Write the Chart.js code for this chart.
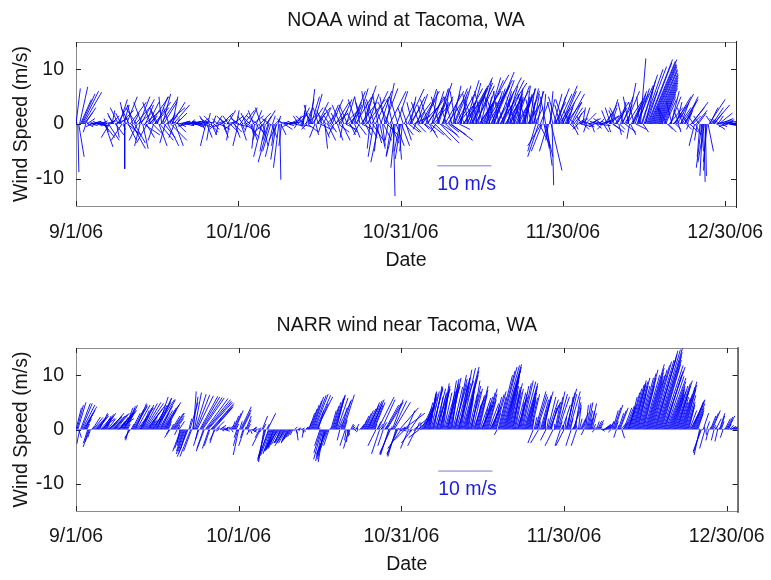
<!DOCTYPE html>
<html>
<head>
<meta charset="utf-8">
<title>Wind at Tacoma, WA</title>
<script src="https://cdn.jsdelivr.net/npm/chart.js@4.4.1/dist/chart.umd.min.js"></script>
<style>
  body { margin: 0; background: #fff; }
  .panel { width: 771px; height: 290px; }
</style>
</head>
<body>
<div class="panel"><canvas id="noaaChart" width="771" height="290"></canvas></div>
<div class="panel"><canvas id="narrChart" width="771" height="290"></canvas></div>
<script>
// x axis is days since 9/1/06 00:00. Each record holds 8-hourly sticks;
// the "A" lists start at 00h, the "B" lists at 04h, so together they are 4-hourly.
const samplesPerDay = 3;
const dateTicks = [0, 30, 60, 90, 120];
const dateLabels = ['9/1/06', '10/1/06', '10/31/06', '11/30/06', '12/30/06'];
const speedTicks = [-10, 0, 10];

// 10 m/s reference stick drawn inside each panel
const keyStart = 66.8;
const keyLevel = -7.65;
const keySpeed = 10;
const keyText = '10 m/s';

// [u, v] in m/s, NOAA station, 00h/08h/16h
const noaaWindA = [
  [0.8,6.5],[0.2,-8.8],[1.5,6.8], [2.5,5.5],[3.4,5.8],[2,3],
  [1.5,1],[-0.5,0.5],[2,0.5], [1,-0.3],[2,0.2],[-1,0.3],
  [1.5,0.4],[0.5,-0.4],[2,0.3], [1,-1],[1.5,-4.2],[-0.5,1],
  [2,-3],[1,0.8],[0.5,2.5], [-1,1.5],[1.5,-2],[2,3.5],
  [1.5,4.5],[-1,2],[0.5,-1], [0,-8.2],[2,5],[1.5,-3],
  [3,4],[2.5,-4.5],[1,2], [3,3.5],[-1.5,-3],[2,5],
  [2.5,4.5],[1,-4.5],[3,2.5], [1.5,-2.5],[2,4],[3.5,5],
  [1,1.5],[-1,-3],[2.5,3], [2,5],[1.5,-4],[3,4.5],
  [1.5,5.5],[2,-2.5],[3.5,3], [2,-4],[1,2],[2.5,4],
  [3,3.5],[1.5,-4],[0.5,1], [2,0.5],[1,-0.5],[2.5,0.4],
  [2,0.3],[1.5,-0.3],[2.5,0.5], [1,0.8],[2,-0.2],[1.5,0.4],
  [2.5,0.3],[1,-0.5],[2,0.6], [1.5,1],[0.5,-1],[2,0.4],
  [-1,-4],[0.5,2],[-0.5,-3], [1,-2],[0.5,1.5],[-1,-1],
  [1,1.5],[-0.5,-2],[1.5,0.8], [2,2],[0.5,-1.5],[-1,1],
  [1.5,2.5],[-0.5,-3],[1,0.5], [2,1.5],[1,-2.5],[0.5,2.5],
  [-1,-4],[1.5,2],[0.5,-1], [2,2.5],[1,0.5],[-0.5,-1.5],
  [1.5,3],[0.5,-2],[2,1.5], [-0.5,-4.5],[1,2.5],[-1,-3],
  [2,2],[-1.5,-6],[0.5,1], [-1,-5],[1.5,2.5],[-2,-7],
  [-1.5,-5],[0.5,1.5],[-0.5,-4], [-1,-6.5],[0.5,1.5],[0.2,-10.2],
  [-0.5,-4],[1,0.5],[1.5,0.3], [2,0.4],[1,-0.3],[2.5,0.5],
  [1.5,0.8],[2,-0.4],[1,1.5], [2,2],[1,-1],[1.5,3],
  [0.5,3.5],[2,1.5],[-1,-1], [1,4.5],[0.8,6.4],[2,3],
  [1.5,5.5],[0.5,-2],[2,4], [1,2],[-0.5,-1.5],[1.5,3],
  [0.5,-4.5],[2,2],[1,-1], [1.5,3.5],[2,4.5],[-1,-2],
  [2.5,4],[1,-3],[1.5,2.5], [2,4.5],[-0.5,-2.5],[3,3],
  [1.5,5],[2,2],[1,-2], [2.5,6],[1.5,3.5],[3,5],
  [2,6.5],[-1,-2],[3,4], [2.5,7],[1.5,5],[3.5,4.5],
  [2,5.5],[-0.5,-4.5],[3,6], [-1,-6],[2.5,5],[-0.5,-5],
  [-1.5,-7],[2,6],[0.5,-4], [2.5,6.5],[1.5,7.5],[-0.5,-3],
  [3,6],[-1,-5.8],[0.3,-13.2], [-0.8,-8],[2,6],[0.5,-6.5],
  [-1,-6.4],[-0.5,-5],[2,4], [1,-3],[3,6.4],[2,3],
  [2.5,5],[1.5,-1.5],[3,4], [2,5.5],[1,2],[3.5,6],
  [2.5,4.5],[1,-1],[2,6.4], [3,5],[1.5,-2.5],[2.5,3.5],
  [2,6],[3,-3],[1.5,4], [2.5,7.5],[3.5,-3.5],[2,5],
  [1,6.5],[2.5,-2.5],[3,4.5], [2,5.5],[4,-3],[1.5,7],
  [2.5,6],[1.5,3],[3,5.5], [2,7],[-0.5,1.5],[3.5,6.5],
  [2.5,8],[1.5,4],[3,6], [4,8.5],[2,5],[1,3],
  [3,7.5],[1.5,6.5],[2.5,4], [5,9],[2,6],[3,5],
  [2.5,8.5],[1,4],[3.5,7], [4,9.5],[2,6.5],[1.5,3],
  [3,8],[5,7.5],[2,5], [1.5,6],[3,4.5],[2,7],
  [2.5,5.5],[1,3],[2,6.5], [1.5,4],[2.5,7],[1,5],
  [0.5,6],[2,5.5],[1.5,4.5], [1,7],[0.5,5],[2,6],
  [1.5,6.5],[0.5,4],[1,5.5], [-1.5,-5],[1,6],[2,-4],
  [-2.5,-4],[0.5,5.5],[1.5,-6], [1,-7.6],[-0.5,-3],[0.5,6],
  [0.3,-11.2],[1.5,5.5],[2.5,6.5], [1.5,5],[2,3],[3,7],
  [2.5,6],[1,2],[1.5,4], [3,5.5],[1,-1],[2,3],
  [2,2.5],[0.5,-1],[1.5,1], [1,0.5],[2,-0.5],[0.5,3],
  [1,3],[-0.5,-1.5],[1.5,0.5], [2,1],[0.5,-1.5],[1,0.4],
  [1.5,0.5],[2.5,-0.3],[1,1], [2,0.5],[-1,-1],[1.5,2],
  [2,3.5],[0.5,-1.5],[1.5,4.5], [1,3],[2,-1.5],[2.5,4],
  [1.5,2.5],[0.5,-2],[1,4], [2,5],[1,1.5],[2.5,6],
  [1.5,7.5],[-0.5,-2.7],[2,4], [2.5,6],[1,3],[3,7],
  [2,6.5],[1,12],[2.5,8], [3.5,10],[1.5,7],[4.6,11.8],
  [4.8,11.5],[4.6,11],[4.4,10.5], [4.2,9.8],[4,9],[3.6,8],
  [3.2,7],[2.5,5.5],[1.5,4], [2,4.5],[1,-1],[2.5,3],
  [1.5,6],[2,2],[3,5], [1,4],[0.5,-1.5],[2,3],
  [3,4.5],[1.5,2],[2,4], [1,2.5],[-0.5,-1],[2.5,3],
  [1.5,1.5],[-1,-4],[2,2.5], [1.5,2],[-0.5,-6],[-1,-8],
  [0.3,-10.6],[0.2,-9.5],[-0.7,-7], [3,4.5],[1,1],[2,3],
  [1.5,2],[2,0.5],[1,1.5], [2.5,1],[1,-0.5],[1.5,0.8],
  [2,0.5],[1,0.3],[1.5,-0.3], [1,0.2],[0.5,0.1],[0.3,0.1]
];

// [u, v] in m/s, NOAA station, 04h/12h/20h
const noaaWindB = [
  [-0.5,3],[1,-6],[2,4.5], [3,6],[1.5,2],[-0.5,-1.5],
  [1,-0.5],[2.5,0.3],[-1,-0.5], [1.5,0.5],[-0.5,-0.3],[2,-0.4],
  [-1,0.5],[1.5,-0.3],[1,0.6], [2,-2.5],[0.5,-1.5],[1.5,0.5],
  [-1.5,-2.5],[1.5,1.5],[-1,2], [2.5,1],[0.5,-2.5],[-1.5,3],
  [2.5,2.5],[-2,-3],[1,3.5], [-1,4],[2.5,-2],[-1.5,3],
  [1.5,-2],[-1,3.5],[2,-3.5], [-2,3],[2.5,2],[-1,-4],
  [-1.5,4],[3,-2],[1.5,3.5], [-2,-3.5],[1,1],[-1.5,4],
  [2,-2],[3,4],[-1,2.5], [-1.5,3],[2.5,-3],[-0.5,5],
  [2.5,4],[-1,-3.5],[2,1.5], [-1,3],[3,-3],[1,5],
  [-1,-2.5],[2,2],[1.5,-1.5], [-1.5,0.4],[1.5,0.5],[-1,-0.4],
  [1,0.5],[-1.5,-0.4],[1.5,0.3], [-1,0.3],[2,0.5],[-0.5,-0.3],
  [1.5,-0.6],[-1,0.5],[1,-0.3], [-1.5,0.5],[1.5,-0.5],[-1,1.5],
  [1,-2.5],[-1.5,1],[1.5,-1.5], [-1.5,1.5],[1,-1],[1.5,0.5],
  [-1,1],[2,-1],[-1.5,-0.5], [1,-2.5],[-1.5,1.5],[2,0.5],
  [-1,1.5],[1.5,-1.5],[-1.5,-1], [1.5,-1.5],[-1,1.5],[2,-0.5],
  [-1.5,1],[1,-3],[-1,1.5], [1.5,-1],[-1,2],[2,-2.5],
  [-1.5,1.5],[1,-3],[-1,2.5], [1.5,-1.5],[-2,1.5],[1,-2],
  [-1,3],[1,-4],[-2,-1.5], [1,1.5],[-1,-3],[-1.5,1],
  [1,-2.5],[-1.5,-6],[1,1], [-1.5,-3],[-1,-8],[1,-2],
  [-1,1],[1.5,-1],[-1.5,0.5], [-1,-0.5],[1.5,0.8],[-1.5,0.3],
  [-1,0.5],[1.5,1.5],[-0.5,-0.8], [-1,1.5],[2,-0.5],[0.5,2.5],
  [-1.5,1.5],[1,2.5],[2,-1.5], [-1,3.5],[1.5,5],[-1.5,2],
  [-1,-2.5],[2.5,3],[-1,3], [2,-1],[-1,2.5],[1,-2.5],
  [-1.5,2],[1.5,-3],[-1,1.5], [1,-1.5],[-1.5,3],[2.5,2],
  [-1,2],[2,-1.5],[-1.5,3.5], [1.5,-3],[-1,3],[2,-1],
  [-1.5,3.5],[1.5,-1.5],[2,4], [-1,2],[1,-2.5],[-1.5,4.5],
  [1.5,-2],[-1,5],[2,-1], [-1.5,4],[1,-2],[-1,6],
  [1.5,-2.5],[-1,4],[2,-3], [-1.5,4.5],[1,-3.5],[-1,5.5],
  [1,-4.5],[-1.5,4],[1.5,-3], [-1,5],[2,-2],[-2,4],
  [1.5,-3.5],[-1,4.5],[-1.5,-6], [1.5,-4],[-1.5,5],[-1,-5],
  [1.5,-4],[-1,3],[1.5,-2], [-1,3],[2,-1.5],[1,5],
  [-1,4],[3,1.5],[-0.5,-1], [1.5,-1.5],[-1.5,4],[3,3],
  [-1,3.5],[2,-1.5],[3.5,5], [-1.5,4.5],[2.5,-2],[1,6],
  [3.5,4.5],[-1,-1.5],[2,6.5], [-1.5,5],[3,-2],[1,4],
  [3.5,6],[-1,3],[2,-1.5], [3,-2],[-1.5,5],[2.5,6.5],
  [-1,6],[3.5,4],[2,-1], [1,5],[4,5],[-1.5,3],
  [4,7],[-1,5.5],[2,7.5], [3,6.5],[-1.5,4],[3.5,7],
  [-1,5],[4,6],[2,8], [-1.5,6],[3.5,8],[1,5],
  [4.5,8],[-1,5.5],[2,6], [3,7],[-1.5,4.5],[4.5,8.5],
  [-1,6],[2.5,6],[4,8], [-1.5,4],[2.5,5.5],[1,4],
  [3.5,6],[-1,4],[1.5,5], [-1.5,5],[2,3.5],[3,6],
  [-1,4],[2.5,6.5],[1,3.5], [-1.5,5.5],[2.5,4],[1,6.5],
  [-1,4.5],[2,6],[1.5,3], [-1,5],[-2,-6],[1.5,4],
  [-2,-5],[1,-4.5],[-1,5], [-1.5,-5],[1,4.5],[2,-8.5],
  [-1,4],[2,4],[-1.5,5], [2.5,5.5],[-1,3.5],[3.5,6],
  [-1.5,4.5],[3,4],[1,3], [-1,2.5],[2,4],[1,-2],
  [-1.5,1.5],[1,2],[-1,-1], [1.5,1],[-1,1.5],[1,-1],
  [2,2],[-1,0.5],[1,-0.5], [-1.5,0.5],[1,1],[-1,-0.5],
  [1,-0.8],[-1.5,0.5],[2,0.6], [-1.5,1],[1,-1.5],[2.5,1.5],
  [-1,2.5],[2,1.5],[-1,3], [1.5,-1],[-1,2.5],[2,3],
  [-1.5,3],[1,-1],[2,3.5], [-1,4],[2,-1.5],[3,4.5],
  [-1,5],[1,-2],[3,5.5], [-1,4],[2,-1],[1.5,5.5],
  [-0.5,5],[3,9],[1,-1.5], [4,10.5],[2,6],[4.3,11.2],
  [4.9,11.8],[4.5,10.8],[4.3,10], [4.1,9.3],[3.8,8.5],[3.4,7.5],
  [3,6.5],[-1,3],[2,5], [-1.5,3],[1.5,-1.5],[2,5],
  [-1,4],[2.5,3.5],[1,-1], [3,5.5],[-1,2.5],[1.5,4],
  [-1,3],[2.5,5],[1,-1], [-1.5,2],[1.5,-1.5],[3,4],
  [-1,1.5],[1,-2],[-0.5,-3], [-1,1.5],[0.5,-5],[-0.5,-9.5],
  [-1.2,-7],[-0.5,-8.5],[1,-5], [1.5,3],[-1,1.5],[3,3.5],
  [-1,1],[1.5,-1],[2.5,2], [-1.5,0.8],[2,0.5],[-1,-0.5],
  [1.5,0.8],[-1,-0.3],[2,0.3], [-0.5,0.2],[1,-0.2],[0.5,0.1]
];

// [u, v] in m/s, NARR grid point near Tacoma, 00h/08h/16h
const narrWindA = [
  [1,4],[1.5,5],[-0.5,-2.6], [2,4.8],[2.5,4.2],[1.5,3],
  [0.5,1],[-1,-3.2],[-0.5,-1.5], [1.5,2.3],[2,2],[1,1],
  [2,2.5],[1.5,3],[2.5,2], [1.5,2.5],[2,3],[0.5,1],
  [2,2],[2.5,3],[1.5,1.5], [2,2.5],[2.5,3],[3,2],
  [1,1.5],[2,3],[2.5,3.5], [1.5,4],[2,4.5],[-0.5,-2],
  [-1,-1.5],[1.5,3],[2.5,4.3], [2,4.8],[3,4],[1,1],
  [1.5,3.5],[2,4.5],[3,5], [3.5,4.5],[2,3],[1,1.5],
  [1.5,2],[2.5,4.5],[3.5,5.5], [2,6],[3,5.5],[1.5,3],
  [2.5,4],[3,5],[1,2], [0.5,1],[-1,-1.5],[1.5,2.5],
  [2,3],[1.5,2],[-0.5,-1], [1,1.5],[-1.5,-4],[-1,-3],
  [-1.5,-4.5],[-1,-3.5],[-2,-5], [1.5,5],[-1.5,-4],[0.5,7],
  [2,6.5],[3,6.2],[-1,-3], [3.5,6],[4,5.8],[-1.5,-4],
  [4.5,5.5],[4.5,5],[-1,-3], [4,4.5],[3.5,4],[-1,-2],
  [0.5,0.5],[-0.5,-0.3],[1,0.8], [0.5,0.3],[1,-0.3],[0.5,0.5],
  [-0.5,0.3],[0.8,0.8],[0.3,-0.5], [1,2.5],[1.5,3.5],[-0.5,-1.5],
  [-1,-4.7],[2,4.2],[1.5,3], [-1,-3],[1,2.5],[0.5,1],
  [-0.5,-1],[1,-0.5],[0.5,0.3], [0.3,0.5],[-0.5,-0.5],[0.5,0.3],
  [-1.5,-3],[1,2.5],[-1,-6], [-1.5,-5.5],[1.5,3],[-2,-5],
  [-1.5,-4.5],[-1,-3.5],[-2,-4], [-1.5,-3.5],[-2,-3],[-1,-2.5],
  [-1.5,-2.5],[-1,-2],[-2,-3], [-1,-2],[-1.5,-2.5],[-1,-1.5],
  [-0.5,-1],[0.5,0.5],[0.3,-2], [0.5,0.3],[-0.3,-0.3],[0.5,0.3],
  [-0.3,-1.5],[0.5,0.5],[0.3,0.2], [1,3],[1.5,4.5],[2,6],
  [2.5,6.5],[3,6],[1,3.5], [-1,-3],[-1.5,-5.5],[-1,-6],
  [-1.5,-5],[-2,-4.5],[-1,-3], [1,3.5],[1.5,5],[2,6.4],
  [1.5,6],[2.5,5.5],[-0.5,-2], [1,4],[2,6.4],[-1,-3],
  [0.5,-1],[-1,-3.5],[0.5,1], [0.5,0.5],[0.3,-0.3],[0.5,1],
  [-0.3,-0.5],[0.3,0.3],[0.5,1], [1,2.5],[1.5,3.5],[2,4],
  [2,5],[2.5,5.5],[1.5,4], [2,5],[-1.5,-3],[3,6],
  [-1.5,-4.5],[2.5,5.5],[-1,-3], [2.5,4.5],[3,5],[-1.5,-4.7],
  [-2,-4.4],[2,5.5],[3,5], [-1.5,-5],[-2,-4.5],[3.5,4],
  [-2.5,-3.5],[4,3],[-2,-2], [1.5,3.5],[-1.5,-3.5],[2,3],
  [-2,-2.5],[2.5,2],[-1.5,-3], [3,2.5],[-2,-1.5],[2,4],
  [2.5,4.5],[1.5,5],[2,6], [1.5,7],[1,6.5],[2,7.5],
  [1.5,8],[2.5,7],[1,6], [2,7.5],[1.5,8.5],[1,6.5],
  [2,7],[2.5,8],[1.5,9], [2,9.5],[1,7],[2.5,8.5],
  [2,10],[3,9],[1.5,8], [2,11],[3,11.5],[2.5,10],
  [1.5,8],[1,6],[2,7], [1.5,9],[2,6],[1,4.5],
  [2,8],[1.5,6.5],[2.5,5], [1,4],[1.5,6],[2,7.5],
  [1.5,5.5],[2,4],[1,3], [1.5,6],[2,7],[-0.5,-1],
  [2.5,10],[3,11.5],[3.5,12], [3,11],[2.5,10.5],[2,9],
  [1.5,7],[2,8.5],[1,6], [1.5,7.5],[2,6],[1,5],
  [1.5,8],[2,9],[2.5,8.5], [2,7.5],[1.5,6],[1,5],
  [1.5,6.5],[-1,-2.5],[2,7], [2,6],[-1.5,-2.5],[1.5,5.5],
  [2,7],[1,5],[-1,-2], [1.5,6],[2,5],[1,4],
  [-1.5,-3],[1,5],[1.5,7], [2,6],[-1,-3],[1.5,4.5],
  [-1.5,-3],[2,7.5],[1,6], [2,7],[-1,-3],[1.5,4],
  [1,6],[-1,-3],[0.5,4.5], [1.5,3],[0.5,1],[-0.5,-1],
  [0.5,4.5],[1,5],[0.5,2], [1,4.8],[0.5,1],[-0.5,-0.5],
  [0.5,1.5],[1,1.7],[0.3,0.5], [0.5,-0.3],[0.8,0.5],[1,1],
  [0.5,0.5],[1,1.5],[-0.5,-0.5], [1,3.5],[1.5,4.5],[-0.5,-1.5],
  [1,3],[1.5,4],[0.5,-1.6], [1.5,4],[2,4.5],[1,2],
  [1.5,6],[2,7.5],[2.5,9], [2,8],[2.5,9.5],[1.5,6.5],
  [2.5,9.5],[3,11],[2,8], [3.5,12],[3,10.5],[2.5,9],
  [3,11],[3.5,12.5],[4,13], [4,14.5],[4.5,14.9],[4,13.5],
  [3.5,12],[4,11.5],[3,10], [3.5,9.5],[3,8],[2.5,7],
  [2,6],[2.5,8],[3,9], [2,7],[1.5,5],[2,6.5],
  [2.5,8.8],[2,7.5],[1.5,5], [1,4],[1.5,3],[2,5],
  [2,5.5],[1.5,4],[1,3], [-1,-4.7],[-1.5,-4],[1,3],
  [-1,-3.5],[0.5,1.5],[-0.5,-2], [1,2.5],[1.5,3.5],[-0.5,-2],
  [1,2],[-0.5,-2.2],[1,3], [0.5,1.5],[-0.5,-1.5],[1,2],
  [1.5,2.5],[0.5,1],[1,0.5], [0.5,0.5],[1,0.5],[0.3,0.2]
];

// [u, v] in m/s, NARR grid point near Tacoma, 04h/12h/20h
const narrWindB = [
  [1.2,4.5],[0.5,-1.5],[1.8,4.8], [2.3,4.5],[2,3.5],[1,2],
  [-0.8,-2.5],[-0.8,-2.3],[0.5,0.5], [1.8,2.2],[1.5,1.5],[1.5,2],
  [1.8,2.8],[2,2.2],[2,2.3], [1.8,2.8],[1,2],[1.5,2],
  [2.3,2.5],[2,2.3],[1.8,2], [2.3,2.8],[2.8,2.5],[1.5,1.5],
  [1.5,2.3],[2.3,3.3],[2,3.8], [1.8,4.3],[0.5,1],[-0.8,-1.8],
  [0.5,1],[2,3.7],[2.3,4.6], [2.5,4.5],[2,2.5],[1.3,2.5],
  [1.8,4],[2.5,4.8],[3.3,4.8], [2.8,3.8],[1.5,2.3],[1.2,1.8],
  [2,3.3],[3,5],[2.8,5.8], [2.5,5.8],[2.3,4.3],[2,3.5],
  [2.8,4.5],[2,3.5],[0.8,1.5], [-0.5,-0.8],[0.5,1],[2,3],
  [1.8,2.5],[0.5,0.5],[0.3,0.8], [-0.5,-2.5],[-1.3,-3.5],[-1.3,-4],
  [-1.3,-4],[-1.5,-4.3],[0.5,2], [-2,-5],[1,6],[1.3,6.8],
  [2.5,6.4],[-0.5,-2],[3.3,6.1], [3.8,5.9],[-1.2,-3.5],[4.2,5.7],
  [4.5,5.2],[-1.2,-3.5],[4.3,4.8], [3.8,4.2],[-0.8,-2.5],[1.5,1.5],
  [0.3,0.2],[0.8,0.5],[0.5,-0.3], [0.8,0.1],[0.8,0.4],[0.1,0.4],
  [0.3,0.5],[0.5,0.3],[0.5,1.5], [1.3,3],[0.5,1],[-0.8,-3],
  [0.5,1.5],[1.8,3.6],[-0.5,-1.5], [0.2,0.5],[0.8,1.8],[0.1,-0.5],
  [0.3,-0.8],[0.8,-0.2],[0.4,0.4], [0.2,0.1],[0.1,0.2],[-0.8,-1.5],
  [-0.3,-0.5],[0.5,1],[-1.3,-5.8], [0.5,1],[-1.8,-5.3],[-1.8,-4.8],
  [-1.3,-4],[-1.5,-3.8],[-1.8,-3.8], [-1.8,-3.3],[-1.5,-2.8],[-1.3,-2.5],
  [-1.3,-2.3],[-1.5,-2.5],[-1.5,-2.5], [-1.3,-2.3],[-1.3,-2],[-0.8,-1.3],
  [0.1,-0.3],[0.4,-0.8],[0.4,0.1], [0.1,0.1],[0.2,0.1],[0.1,-0.6],
  [0.1,-0.5],[0.4,0.4],[0.7,1.5], [1.3,3.8],[1.8,5.3],[2.3,6.3],
  [2.8,6.3],[2,4.8],[0.2,0.3], [-1.3,-4.3],[-1.3,-5.8],[-1.3,-5.5],
  [-1.8,-4.8],[-1.5,-3.8],[0.1,0.3], [1.3,4.3],[1.8,5.7],[1.8,6.2],
  [2,5.8],[1,1.8],[0.3,1], [1.5,5.2],[0.5,1.7],[-0.3,-2],
  [-0.3,-2.3],[-0.3,-1.3],[0.5,0.8], [0.4,0.1],[0.4,0.4],[0.1,0.3],
  [0.1,-0.1],[0.4,0.7],[0.8,1.8], [1.3,3],[1.8,3.8],[2,4.5],
  [2.3,5.3],[2,4.8],[1.8,4.5], [0.3,1],[0.8,1.5],[0.8,1],
  [0.5,0.5],[0.8,1.3],[0.8,0.8], [2.8,4.8],[0.8,0.2],[-1.8,-4.6],
  [0.1,0.6],[2.5,5.3],[0.8,0.2], [-1.8,-4.8],[0.8,-0.3],[0.8,0.3],
  [0.8,-0.3],[1,0.5],[-0.3,0.5], [0.2,0.1],[0.3,-0.3],[-0.5,-0.5],
  [0.3,-0.3],[0.5,0.3],[0.5,1.3], [0.5,0.5],[0.1,1.3],[2.3,4.3],
  [2,4.8],[1.8,5.5],[1.8,6.5], [1.3,6.8],[1.5,7],[1.8,7.8],
  [2,7.5],[1.8,6.5],[1.5,6.8], [1.8,8],[1.3,7.5],[1.5,6.8],
  [2.3,7.5],[2,8.5],[1.8,9.3], [1.5,8.3],[1.8,7.8],[2.3,9.3],
  [2.5,9.5],[2.3,8.5],[1.8,9.5], [2.5,11.3],[2.8,10.8],[2,9],
  [1.3,7],[1.5,6.5],[1.8,8], [1.8,7.5],[1.5,5.3],[1.5,6.3],
  [1.8,7.3],[2,5.8],[1.8,4.5], [1.3,5],[1.8,6.8],[1.8,6.5],
  [1.8,4.8],[1.5,3.5],[1.3,4.5], [1.8,6.5],[0.8,3],[1.5,6],
  [2.8,10.8],[3.3,11.8],[3.3,11.5], [2.8,10.8],[2.3,9.8],[1.8,8],
  [1.8,7.8],[1.5,7.3],[1.3,6.8], [1.8,6.8],[1.5,5.5],[1.3,6.5],
  [1.8,8.5],[2.3,8.8],[2.3,8], [1.8,6.8],[1.3,5.5],[1.3,5.8],
  [0.3,2],[0.5,2.3],[2,6.5], [0.3,1.8],[0.1,1.5],[1.8,6.3],
  [1.5,6],[0.1,1.5],[0.3,2], [1.8,5.5],[1.5,4.5],[-0.3,0.5],
  [0.1,1],[1.3,6],[1.8,6.5], [0.5,1.5],[0.3,0.8],[0.1,0.8],
  [0.3,2.3],[1.5,6.8],[1.5,6.5], [0.5,2],[0.3,0.5],[1.3,5],
  [0.1,1.5],[-0.3,0.8],[0.5,2], [1,2],[0.2,0.1],[0.1,1.8],
  [0.8,4.8],[0.8,3.5],[0.8,3.4], [0.8,3],[0.1,0.3],[0.1,0.5],
  [0.8,1.6],[0.7,1.1],[0.4,0.1], [0.7,0.1],[0.9,0.8],[0.8,0.8],
  [0.8,1],[0.3,0.5],[0.3,1.5], [1.3,4],[0.5,1.5],[0.3,0.8],
  [1.3,3.5],[1,1.2],[1,1.2], [1.8,4.3],[1.5,3.3],[1.3,4],
  [1.8,6.8],[2.3,8.3],[2.3,8.5], [2.3,8.8],[2,8],[2,8],
  [2.8,10.3],[2.5,9.5],[2.8,10], [3.3,11.3],[2.8,9.8],[2.8,10],
  [3.3,11.8],[3.8,12.8],[4,13.8], [4.3,14.7],[4.3,14.2],[3.8,12.8],
  [3.8,11.8],[3.5,10.8],[3.3,9.8], [3.3,8.8],[2.8,7.5],[2.3,6.5],
  [2.3,7],[2.8,8.5],[2.5,8], [1.8,6],[1.8,5.8],[2.3,7.8],
  [2.3,8.2],[1.8,6.3],[1.3,4.5], [1.3,3.5],[1.8,4],[2,5.3],
  [1.8,4.8],[1.3,3.5],[0.2,0.1], [-1.3,-4.3],[0.1,0.1],[0.1,0.5],
  [0.1,-1],[0.1,0.1],[0.3,0.5], [1.3,3],[0.5,0.8],[0.3,0.5],
  [0.3,0.1],[0.3,0.4],[0.8,2.5], [0.1,0.1],[0.3,0.3],[1.3,2.3],
  [1,1.8],[0.8,0.8],[0.8,0.5], [0.8,0.5],[0.7,0.4],[0.2,0.1]
];

const FONT = "'Liberation Sans', Arial, sans-serif";
const TEXT = '#151515';

// each stick runs from (t, 0) to (t + u, v); a null point breaks the line
function stickData(wind, offset) {
  const pts = [];
  wind.forEach(([u, v], i) => {
    const t = i / samplesPerDay + offset;
    pts.push({ x: t, y: 0 }, { x: t + u, y: v }, { x: t, y: null });
  });
  return pts;
}

// box, inward tick marks and the key label
const axesBox = {
  id: 'axesBox',
  beforeDatasetsDraw(chart) {
    const { ctx, chartArea: a, scales: { x, y } } = chart;
    ctx.save();
    ctx.strokeStyle = '#8c8c8c';
    ctx.lineWidth = 1;
    ctx.strokeRect(a.left + 0.5, a.top + 0.5, a.right - a.left, a.bottom - a.top);
    ctx.strokeStyle = '#222';
    ctx.beginPath();
    // darker right-hand axis, a little longer than the box
    ctx.moveTo(a.right + 0.5, a.top - 1); ctx.lineTo(a.right + 0.5, a.bottom + 2);
    dateTicks.forEach(d => {
      const px = Math.round(x.getPixelForValue(d)) + 0.5;
      ctx.moveTo(px, a.top); ctx.lineTo(px, a.top + 5);
      ctx.moveTo(px, a.bottom); ctx.lineTo(px, a.bottom - 5);
    });
    speedTicks.forEach(s => {
      const py = Math.round(y.getPixelForValue(s)) + 0.5;
      ctx.moveTo(a.left, py); ctx.lineTo(a.left + 5, py);
      ctx.moveTo(a.right, py); ctx.lineTo(a.right - 5, py);
    });
    ctx.stroke();
    ctx.restore();
  },
  afterDraw(chart) {
    const { ctx, scales: { x, y } } = chart;
    ctx.save();
    ctx.fillStyle = '#1c1cdc';
    ctx.font = '19.5px ' + FONT;
    ctx.textAlign = 'left';
    ctx.textBaseline = 'middle';
    ctx.fillText(keyText, x.getPixelForValue(keyStart), y.getPixelForValue(keyLevel - 3.45));
    ctx.restore();
  }
};

function makeChart(id, title, windA, windB, L) {
  return new Chart(document.getElementById(id), {
    type: 'scatter',
    data: {
      datasets: [
        {
          data: stickData(windA, 0).concat(stickData(windB, 0.5 / samplesPerDay)),
          showLine: true,
          spanGaps: false,
          borderColor: 'rgb(0, 0, 250)',
          borderWidth: 0.9,
          pointRadius: 0
        },
        {
          data: [{ x: keyStart, y: keyLevel }, { x: keyStart + keySpeed, y: keyLevel }],
          showLine: true,
          borderColor: '#7b7bd2',
          borderWidth: 1,
          pointRadius: 0
        }
      ]
    },
    options: {
      responsive: false,
      animation: false,
      events: [],
      layout: { padding: { left: 0, right: 31, top: 0, bottom: 0 } },
      plugins: {
        legend: { display: false },
        tooltip: { enabled: false },
        title: {
          display: true,
          text: title,
          fullSize: false,
          color: TEXT,
          font: { family: FONT, size: 19.5, weight: 'normal' },
          padding: { top: L.titleTop, bottom: L.titleBottom }
        }
      },
      scales: {
        x: {
          type: 'linear',
          min: 0,
          max: 122,
          grid: { display: false },
          border: { display: false },
          afterBuildTicks: s => { s.ticks = dateTicks.map(v => ({ value: v })); },
          ticks: {
            callback: v => dateLabels[dateTicks.indexOf(v)],
            color: TEXT,
            font: { family: FONT, size: 19.5 },
            padding: L.tickPad,
            maxRotation: 0,
            autoSkip: false
          },
          title: {
            display: true,
            text: 'Date',
            color: TEXT,
            font: { family: FONT, size: 19.5 },
            padding: { top: 0, bottom: L.datePad }
          },
          afterFit: s => { s.height = L.xHeight; }
        },
        y: {
          min: -15,
          max: 15,
          grid: { display: false },
          border: { display: false },
          afterBuildTicks: s => { s.ticks = speedTicks.map(v => ({ value: v })); },
          ticks: {
            color: TEXT,
            font: { family: FONT, size: 19.5 },
            padding: 4
          },
          title: {
            display: true,
            text: 'Wind Speed (m/s)',
            color: TEXT,
            font: { family: FONT, size: 19.5 },
            padding: { top: 10.3, bottom: 0 }
          },
          afterFit: s => { s.width = 76; }
        }
      }
    },
    plugins: [axesBox]
  });
}

makeChart('noaaChart', 'NOAA wind at Tacoma, WA', noaaWindA, noaaWindB,
  { titleTop: 8.6, titleBottom: 10, xHeight: 84, tickPad: 7.3, datePad: 18 });
makeChart('narrChart', 'NARR wind near Tacoma, WA', narrWindA, narrWindB,
  { titleTop: 24, titleBottom: 10.6, xHeight: 69, tickPad: 5.8, datePad: 3.3 });
</script>
</body>
</html>
